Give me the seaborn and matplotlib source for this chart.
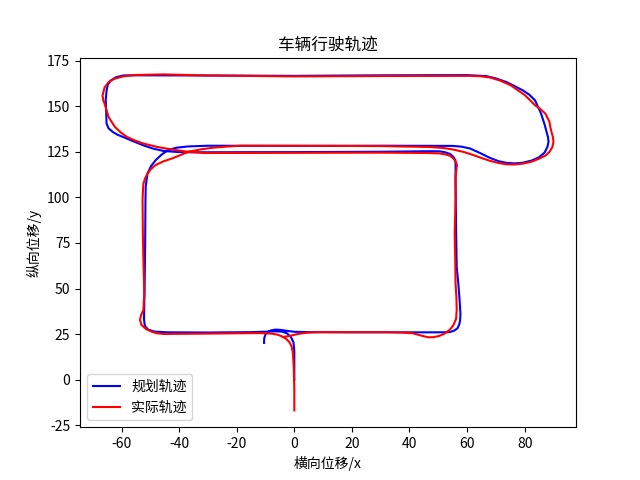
import numpy as np
import pandas as pd
import matplotlib
matplotlib.use("Agg")
import matplotlib.pyplot as plt
import seaborn as sns

# planned trajectory (规划轨迹), (x, y)
planned_xy = [
    (0, 0), (0, 8), (0, 16), (-0.3, 20.5), (-1.2, 23.5), (-2.6, 25.5), (-4.3, 26.4),
    (-6.5, 26.5), (-9, 26.4), (-15, 26.1), (-30, 25.9), (-44, 26.0), (-48.5, 26.4),
    (-50.8, 27.5), (-51.9, 29.5), (-52.2, 33), (-52.0, 50), (-51.8, 75), (-51.7, 98),
    (-51.6, 106), (-51.0, 113), (-49.8, 117), (-48.2, 120.3), (-46.2, 123.3), (-44.0, 125.8),
    (-41, 127.2), (-37, 127.9), (-30, 128.3), (0, 128.2), (30, 128.3), (55, 128.2),
    (58, 127.8), (61, 126.8), (64.5, 124.3), (68, 121.6), (71, 119.8), (73.7, 118.9),
    (76.5, 118.6), (79.4, 119), (82.5, 120.2), (85, 122), (86.9, 124.5), (87.9, 127.6),
    (88.3, 130.5), (88.1, 133), (87, 139.5), (85.7, 145.9), (83.6, 153.2), (81.6, 156.3),
    (79.4, 158.6), (76.5, 161), (73.7, 163.2), (70, 165.2), (66.6, 166.5), (60, 167),
    (30, 166.9), (0, 166.6), (-30, 166.8), (-57, 166.9), (-59.5, 166.8), (-62, 165.8),
    (-63.8, 164), (-64.8, 161.6), (-65.2, 158.6), (-65.5, 153.5), (-65.4, 149.5),
    (-65.2, 140.4), (-64.5, 137.8), (-63, 135.8), (-61.5, 134.4), (-59.5, 133.1),
    (-56, 130.8), (-52.4, 128.5), (-49, 126.7), (-45.3, 125.4), (-41, 124.9), (-36.8, 124.7),
    (0, 124.8), (30, 125.0), (48.2, 125.3), (50.5, 125.2), (52.4, 124.7), (54.2, 123.7),
    (55.3, 122.1), (55.9, 120.5), (56, 118.5), (56, 109.4), (56.2, 80), (56.4, 62),
    (57.0, 52), (57.4, 43.8), (57.7, 36), (57.6, 32.8), (57.3, 30.4), (56.7, 28.3),
    (55.5, 26.9), (53.9, 26.1), (50, 26.0), (40, 26.0), (20, 26.0), (5, 26.1), (0, 26.3),
    (-2.5, 26.8), (-4.5, 27.3), (-6.5, 27.5), (-8.0, 27.1), (-9.2, 26.2), (-10.0, 24.9),
    (-10.4, 23.0), (-10.5, 21.5), (-10.5, 20.2),
]

# actual trajectory (实际轨迹)
actual_xy = [
    (0, -16.8), (0, -5), (-0.2, 7), (-0.5, 15), (-1.0, 18.5), (-1.8, 20.8), (-3.0, 22.6),
    (-4.3, 23.8), (-5.8, 24.7), (-8, 25.3), (-12, 25.6), (-17, 25.5), (-30, 25.3),
    (-45.3, 25.1), (-47.8, 25.5), (-49.6, 26.4), (-51.5, 27.8), (-53.1, 30.1), (-53.6, 32.8),
    (-53.2, 35.5), (-52.4, 38.3), (-52.1, 47.4), (-52.4, 65), (-52.6, 80.2), (-52.7, 98.4),
    (-52.6, 103), (-52.4, 107.6), (-51.8, 110.5), (-51.0, 113), (-49.8, 115.5),
    (-48.2, 117.7), (-45.5, 119.7), (-42.5, 121.3), (-39.5, 123.2), (-36.8, 125.0),
    (-32.5, 126.3), (-28.3, 127.2), (-23, 127.9), (-18.4, 128.3), (0, 128.3), (30, 128.1),
    (46.8, 127.6), (51.5, 127.1), (55.3, 126.2), (59, 124.8), (62.3, 123.1), (65.3, 121.4),
    (68, 120), (71, 118.8), (73.7, 118.1), (76.5, 118.0), (79.4, 118.5), (82.5, 119.6),
    (85, 121.2), (87.2, 122.9), (88.6, 124.9), (89.6, 127.5), (90, 130.4), (89.8, 133.2),
    (89.3, 135.9), (88.9, 138.7), (88.6, 141.4), (87.2, 145.9), (85.5, 148.3), (83.6, 150.5),
    (80.1, 156), (75.1, 161.5), (71.5, 164.0), (68, 165.7), (64.5, 166.4), (60.9, 166.6),
    (30, 166.5), (0, 166.3), (-30, 166.8), (-45.3, 167.4), (-55, 167.1), (-59.5, 166.3),
    (-62.5, 165.0), (-64.5, 163.2), (-65.9, 160.2), (-66.6, 155.9), (-66.4, 153.5),
    (-65.9, 151.4), (-64.5, 144), (-62.3, 138.6), (-60.3, 135.6), (-58.1, 133.1),
    (-55.3, 131.1), (-52.4, 129.5), (-47.5, 127.6), (-42.5, 126.2), (-37, 125.0),
    (-31.2, 124.3), (0, 124.4), (30, 124.5), (46.8, 124.3), (50.3, 124.1), (52.4, 123.6),
    (54.2, 122.7), (55.3, 121.2), (56.1, 119.5), (56.5, 117.6), (56.3, 115.5), (56.0, 111.2),
    (56.0, 98.4), (55.7, 80.2), (55.9, 65), (56.0, 52.8), (56.3, 45), (56.4, 38.3),
    (56.2, 33.5), (55.3, 30.1), (54.1, 27.6), (52.4, 25.5), (50.3, 24.0), (48.2, 23.3),
    (46.5, 23.3), (45.3, 23.7), (43.2, 24.6), (41.1, 25.5), (37, 25.9), (32.6, 26.1),
    (20, 26.1), (8.5, 26.1), (5.3, 25.9), (2.8, 25.5), (0.6, 24.9), (-1.4, 24.1),
    (-2.8, 23.7), (-4.0, 23.4),
]

planned = pd.DataFrame(planned_xy, columns=["x", "y"])
actual = pd.DataFrame(actual_xy, columns=["x", "y"])

plt.rcParams["font.family"] = ["Noto Sans CJK SC", "DejaVu Sans"]
plt.rcParams["axes.unicode_minus"] = False

fig, ax = plt.subplots(figsize=(6.4, 4.8), dpi=100)
sns.lineplot(data=planned, x="x", y="y", sort=False, estimator=None, color="blue",
             linewidth=1.5, label="规划轨迹", ax=ax)
sns.lineplot(data=actual, x="x", y="y", sort=False, estimator=None, color="red",
             linewidth=1.5, label="实际轨迹", ax=ax)

ax.set_title("车辆行驶轨迹")
ax.set_xlabel("横向位移/x")
ax.set_ylabel("纵向位移/y")
ax.set_xticks([-60, -40, -20, 0, 20, 40, 60, 80])
ax.set_yticks([-25, 0, 25, 50, 75, 100, 125, 150, 175])
ax.legend(loc="lower left")

fig.savefig("out.png", dpi=100)
